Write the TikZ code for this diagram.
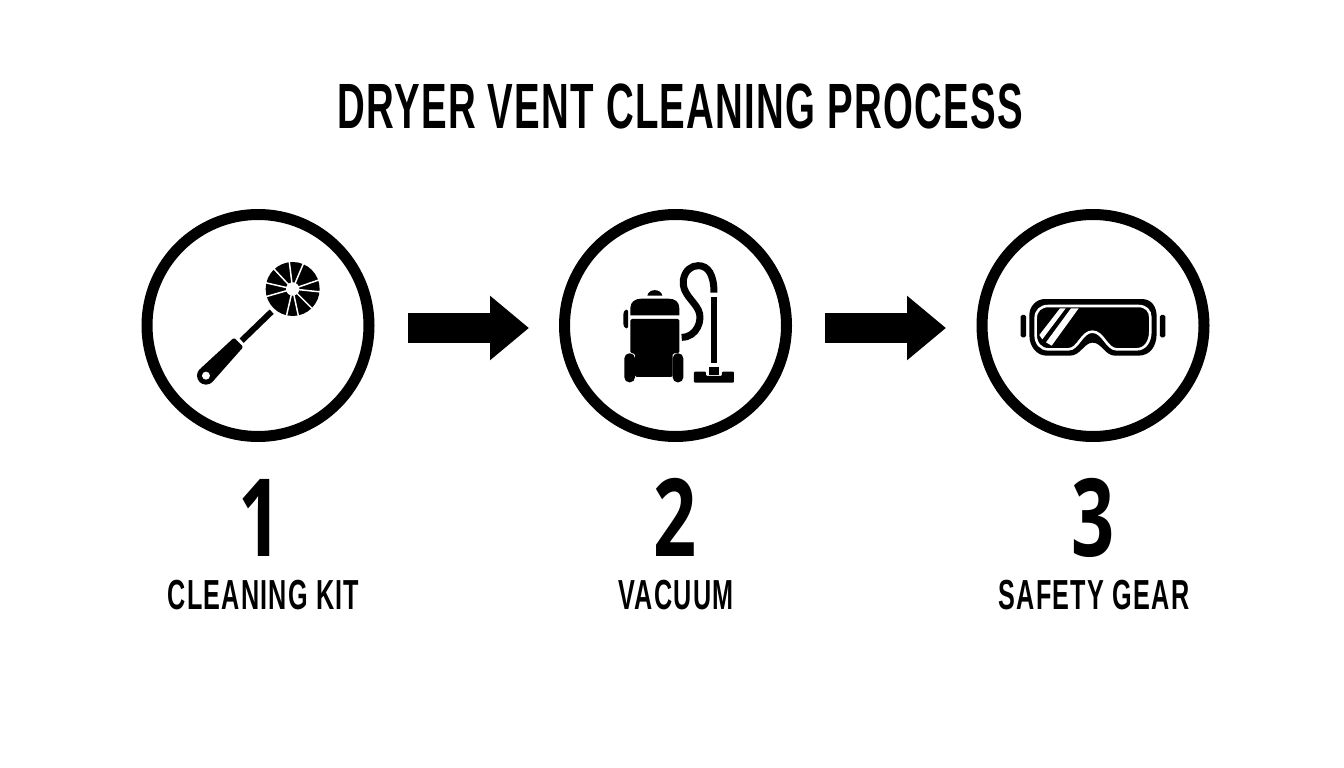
\documentclass[tikz,border=0pt]{standalone}
\usepackage{fontspec}
\usetikzlibrary{arrows.meta}
\setmainfont{Liberation Sans}[BoldFont={Liberation Sans Bold}]
\newfontface\condfont{Liberation Sans Bold}[FakeStretch=0.6,LetterSpace=2]
\newfontface\lblfont{Liberation Sans Bold}[FakeStretch=0.6,LetterSpace=3]
\newfontfamily\numfont{Open Sans}[FakeStretch=0.7]
\tikzset{
  ring/.style={circle,draw=black,line width=11pt,minimum size=222pt,inner sep=0pt,fill=white},
  bigarrow/.style={line width=30pt,black,-{Triangle[length=39pt,width=62pt]}},
  titletext/.style={font=\condfont\fontsize{64}{64}\selectfont,inner sep=0pt,anchor=center},
  numtext/.style={font=\numfont\bfseries\fontsize{108}{108}\selectfont,inner sep=0pt,anchor=center},
  labeltext/.style={font=\lblfont\fontsize{42}{42}\selectfont,inner sep=0pt,anchor=center},
  icon/.style={x=0.3333pt,y=-0.3333pt}
}
\begin{document}
\begin{tikzpicture}[x=1pt,y=-1pt]
\useasboundingbox (0,0) rectangle (1344,768);
\fill[white] (0,0) rectangle (1344,768);
\node[titletext] (title) at (680.5,106) {DRYER VENT CLEANING PROCESS};
\node[ring] (c1) at (258,325.5) {};
\node[ring] (c2) at (675.5,325.5) {};
\node[ring] (c3) at (1093,325.5) {};
\coordinate (a1s) at (408,328);
\coordinate (a1e) at (529,328);
\coordinate (a2s) at (825,328);
\coordinate (a2e) at (946,328);
\draw[bigarrow] (a1s) -- (a1e);
\draw[bigarrow] (a2s) -- (a2e);
\node[numtext] (n1) at (260,517.5) {1};
\node[numtext] (n2) at (675.5,517.5) {2};
\node[numtext] (n3) at (1093,517.5) {3};
\node[labeltext] (l1) at (263.5,595) {CLEANING KIT};
\node[labeltext] (l2) at (676,595) {VACUUM};
\node[labeltext] (l3) at (1094,595) {SAFETY GEAR};
% brush
\begin{scope}[shift={(130,200)},icon]
  \draw[line width=6pt] (335,422) -- (425,335);
  \fill (488,267) circle (81);
  \foreach \a in {97,67,19,-6,-45,-78,-103,-164,167,133}
    \draw[white,line width=1.5pt] (488,267) -- ++({cos(\a)*85},{-sin(\a)*85});
  \fill[white] (488,267) circle (20);
  \fill (228,527) circle (27);
  \fill[rounded corners=1.5pt] (209,508) -- (312,413) -- (340,441) -- (247,546) -- cycle;
  \fill[white] (228,527) circle (12);
\end{scope}
% vacuum
\begin{scope}[shift={(600,250)},icon]
  \fill (142,137) .. controls (146,115) and (183,115) .. (187,137) -- cycle;
  \fill (91,196) -- (91,175) .. controls (91,155) and (105,146) .. (125,146) -- (205,146) .. controls (225,146) and (238,155) .. (238,175) -- (238,196) -- cycle;
  \fill[rounded corners=1.5pt] (91,207) -- (238,207) -- (238,310) -- (218,310) -- (218,381) -- (105,381) -- (105,310) -- (91,310) -- cycle;
  \fill[rounded corners=1.5pt] (84,178) -- (74,180) -- (70,190) -- (70,225) -- (74,234) -- (84,236) -- cycle;
  \fill[rounded corners=5pt] (73,310) rectangle (105,397);
  \fill[rounded corners=5pt] (218,310) rectangle (250,397);
  \draw[line width=7pt] (245,262) .. controls (290,262) and (310,210) .. (295,180) .. controls (280,150) and (245,130) .. (250,90) .. controls (255,60) and (275,47) .. (295,47) .. controls (325,47) and (342,75) .. (342,128);
  \fill (332,140) rectangle (352,340);
  \fill (328,350) rectangle (358,375);
  \fill[rounded corners=1pt] (282,365) -- (318,365) -- (318,378) -- (366,378) -- (366,365) -- (402,365) -- (402,398) -- (282,398) -- cycle;
\end{scope}
% goggles
\begin{scope}[shift={(1010,280)},icon]
  \fill[rounded corners=1.5pt] (32,105) rectangle (48,172);
  \fill[rounded corners=1.5pt] (450,105) rectangle (466,172);
  \fill (105,57) -- (395,57) .. controls (425,57) and (440,80) .. (440,110) -- (440,160) .. controls (440,200) and (420,227) .. (385,227) -- (315,227) .. controls (285,227) and (275,188) .. (248,188) .. controls (222,188) and (212,227) .. (180,227) -- (110,227) .. controls (80,227) and (58,200) .. (58,165) -- (58,105) .. controls (58,80) and (78,57) .. (105,57) -- cycle;
  \draw[white,line width=2.6pt] (115,78) -- (385,78) .. controls (408,78) and (421,92) .. (421,112) -- (421,155) .. controls (421,185) and (405,208) .. (380,208) -- (320,208) .. controls (290,208) and (280,155) .. (247,155) .. controls (215,155) and (205,208) .. (175,208) -- (115,208) .. controls (92,208) and (77,190) .. (77,165) -- (77,115) .. controls (77,92) and (92,78) .. (115,78) -- cycle;
  \fill[white] (150,85) -- (167,85) -- (97,178) -- (88,165) -- cycle;
  \fill[white] (183,85) -- (206,85) -- (125,197) -- (108,187) -- cycle;
\end{scope}
\end{tikzpicture}
\end{document}
